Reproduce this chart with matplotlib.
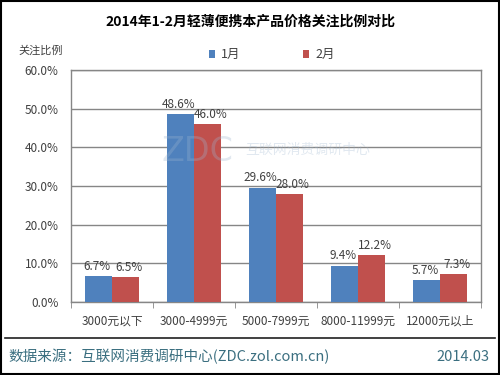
import matplotlib
matplotlib.use("Agg")
import matplotlib.pyplot as plt
import numpy as np

plt.rcParams['font.family'] = ['Noto Sans CJK SC', 'DejaVu Sans']

categories = ["3000元以下", "3000-4999元", "5000-7999元", "8000-11999元", "12000元以上"]
jan = [6.7, 48.6, 29.6, 9.4, 5.7]
feb = [6.5, 46.0, 28.0, 12.2, 7.3]
series_names = ["1月", "2月"]
yticks = [0, 10, 20, 30, 40, 50, 60]

blue = "#4F81BD"
red = "#C0504D"
grid_c = "#868686"
text_c = "#404040"

fig = plt.figure(figsize=(5, 3.75), dpi=100)
ax = fig.add_axes([0.142, 0.195, 0.82, 0.618])

x = np.arange(len(categories))
w = 0.33
b1 = ax.bar(x - w / 2, jan, w, color=blue, label=series_names[0], zorder=3)
b2 = ax.bar(x + w / 2, feb, w, color=red, label=series_names[1], zorder=3)

for rect, v in zip(b1, jan):
    ax.text(rect.get_x() + rect.get_width() / 2 - 0.02, v + 0.8, f"{v:.1f}%",
            ha="center", va="bottom", fontsize=8.5, color=text_c, zorder=4)
for rect, v in zip(b2, feb):
    ax.text(rect.get_x() + rect.get_width() / 2 + 0.04, v + 0.8, f"{v:.1f}%",
            ha="center", va="bottom", fontsize=8.5, color=text_c, zorder=4)

ax.set_xlim(-0.5, len(categories) - 0.5)
ax.set_ylim(0, 60)
ax.set_yticks(yticks)
ax.set_yticklabels([f"{t:.1f}%" for t in yticks], fontsize=8.5, color=text_c)
ax.yaxis.grid(True, color=grid_c, linewidth=1, zorder=0)
ax.tick_params(axis="y", length=0, pad=9)

ax.set_xticks(x)
ax.set_xticklabels(categories, fontsize=8.5, color=text_c)
ax.set_xticks(np.arange(-0.5, len(categories), 1), minor=True)
ax.tick_params(axis="x", which="major", length=0, pad=9)
ax.tick_params(axis="x", which="minor", length=4, color=grid_c, direction="out")
for s in ax.spines.values():
    s.set_color(grid_c)
    s.set_linewidth(1)

# watermark
fig.text(0.395, 0.595, "ZDC", fontsize=24, color="#9db6cf", alpha=0.3,
         ha="center", va="center", family="DejaVu Sans")
fig.text(0.615, 0.6, "互联网消费调研中心", fontsize=10, color="#9db6cf", alpha=0.3,
         ha="center", va="center")

fig.text(0.5, 0.943, "2014年1-2月轻薄便携本产品价格关注比例对比", fontsize=10,
         fontweight="bold", ha="center", va="center", color="#000000")
fig.text(0.036, 0.865, "关注比例", fontsize=8, ha="left", va="center", color=text_c)

leg = ax.legend(loc="lower center", bbox_to_anchor=(0.49, 1.0), ncol=2, frameon=False,
                fontsize=9, handlelength=0.5, handleheight=0.5, columnspacing=5,
                handletextpad=0.5, borderaxespad=0.3)
for t in leg.get_texts():
    t.set_color(text_c)

# separator and footer
fig.add_artist(plt.Line2D([0.01, 0.99], [0.099, 0.099], color="#202020", linewidth=1.2,
                          transform=fig.transFigure))
fig.text(0.016, 0.048, "数据来源：互联网消费调研中心(ZDC.zol.com.cn)", fontsize=10.5,
         ha="left", va="center", color="#3b6f80")
fig.text(0.978, 0.048, "2014.03", fontsize=10.5, ha="right", va="center", color="#3b6f80")

fig.add_artist(plt.Rectangle((0.002, 0.003), 0.996, 0.994, fill=False, edgecolor="#000000",
                             linewidth=1.5, transform=fig.transFigure))

fig.savefig("out.png", dpi=100)
